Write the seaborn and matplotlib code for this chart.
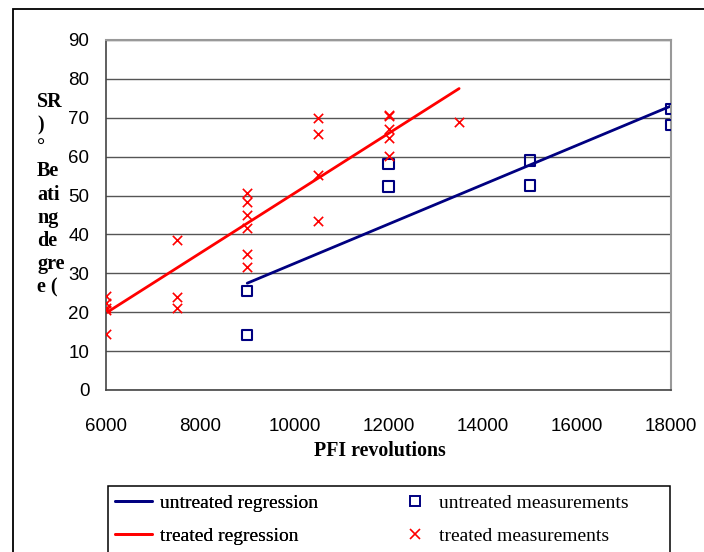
import numpy as np
import matplotlib
matplotlib.use("Agg")
import matplotlib.pyplot as plt
from matplotlib.patches import Rectangle
from matplotlib.lines import Line2D
import seaborn as sns

# untreated measurements (PFI revolutions, beating degree)
untreated_x = [9000, 9000, 12000, 12000, 15000, 15000, 18000, 18000]
untreated_y = [25.4, 14.1, 58.2, 52.3, 59.0, 52.6, 72.2, 68.2]

# treated measurements
treated_x = [6000, 6000, 6000, 6000, 6000,
             7500, 7500, 7500,
             9000, 9000, 9000, 9000, 9000, 9000,
             10500, 10500, 10500, 10500,
             12000, 12000, 12000, 12000, 12000,
             13500]
treated_y = [24.2, 22.5, 21.2, 20.5, 14.3,
             38.7, 24.0, 21.2,
             50.7, 48.3, 45.0, 41.6, 35.1, 31.7,
             69.9, 65.9, 55.2, 43.4,
             70.6, 70.4, 67.2, 64.8, 60.1,
             68.9]

x_ticks = [6000, 8000, 10000, 12000, 14000, 16000, 18000]
y_ticks = [0, 10, 20, 30, 40, 50, 60, 70, 80, 90]
ylabel_lines = ["SR", ")", "°", "Be", "ati", "ng", "de", "gre", "e ("]

navy = "#000080"
red = "#ff0000"
W, H = 704, 552

sns.set_style("white")
plt.rcParams['font.family'] = ['Liberation Sans', 'DejaVu Sans']
plt.rcParams['text.color'] = 'black'

fig = plt.figure(figsize=(W / 100, H / 100), dpi=100)
ax = fig.add_axes([106 / W, 1 - 390 / H, 565 / W, 350 / H])

sns.regplot(x=untreated_x, y=untreated_y, scatter=False, ci=None, ax=ax,
            color=navy, line_kws=dict(lw=2))
sns.regplot(x=treated_x, y=treated_y, scatter=False, ci=None, ax=ax,
            color=red, line_kws=dict(lw=2))
sns.scatterplot(x=untreated_x, y=untreated_y, ax=ax, marker="s", s=55,
                facecolor="none", edgecolor=navy, linewidth=1.5, zorder=4)
sns.scatterplot(x=treated_x, y=treated_y, ax=ax, marker="x", s=45,
                color=red, linewidth=1.2, zorder=4)

ax.set_xlim(6000, 18000)
ax.set_ylim(0, 90)
ax.set_xticks(x_ticks)
ax.set_yticks(y_ticks)
ax.set_xlabel("")
ax.set_ylabel("")
ax.grid(axis="y", color="#555555", lw=1)
ax.set_axisbelow(True)
ax.tick_params(axis="both", direction="out", length=5, width=1,
               color="#444444", labelsize=13.5, labelcolor="black")
ax.tick_params(axis="x", pad=15)
ax.tick_params(axis="y", pad=7)
for s in ["left", "bottom"]:
    ax.spines[s].set_color("#444444")
    ax.spines[s].set_linewidth(1.2)
for s in ["top", "right"]:
    ax.spines[s].set_color("#999999")
    ax.spines[s].set_linewidth(1.5)

serif = ['Liberation Serif', 'DejaVu Serif']
fig.text(380 / W, 1 - 451 / H, "PFI revolutions", ha="center", va="center",
         family=serif, weight="bold", size=14.3, color="black")
fig.text(37 / W, 1 - 92 / H, "\n".join(ylabel_lines), ha="left", va="top",
         family=serif, weight="bold", size=14.5, linespacing=1.21,
         color="black")

# outer chart frame
fig.patches.append(Rectangle((13 / W, -0.05), 1.0, 1 - 9 / H + 0.05,
                             transform=fig.transFigure, fill=False,
                             edgecolor="black", lw=1.3))
# legend box
fig.patches.append(Rectangle((108 / W, -0.05), 562 / W, 1 - 486 / H + 0.05,
                             transform=fig.transFigure, fill=False,
                             edgecolor="black", lw=1.1))

leg_font = dict(family=serif, size=14)
h1 = [Line2D([], [], color=navy, lw=2), Line2D([], [], color=red, lw=2)]
h2 = [Line2D([], [], ls="none", marker="s", ms=7, mfc="none", mec=navy, mew=1.4),
      Line2D([], [], ls="none", marker="x", ms=7, color=red, mew=1.2)]
leg1 = fig.legend(h1, ["untreated regression", "treated regression"],
                  loc="upper left", bbox_to_anchor=(115 / W, 1 - 494 / H),
                  frameon=False, prop=leg_font, handlelength=1.9,
                  handletextpad=0.4, borderpad=0, borderaxespad=0,
                  labelspacing=0.8, labelcolor="black")
fig.add_artist(leg1)
fig.legend(h2, ["untreated measurements", "treated measurements"],
           loc="upper left", bbox_to_anchor=(405 / W, 1 - 494 / H),
           frameon=False, prop=leg_font, handlelength=1.0,
           handletextpad=0.75, borderpad=0, borderaxespad=0,
           labelspacing=0.8, labelcolor="black")

fig.savefig("out.png", dpi=100)
